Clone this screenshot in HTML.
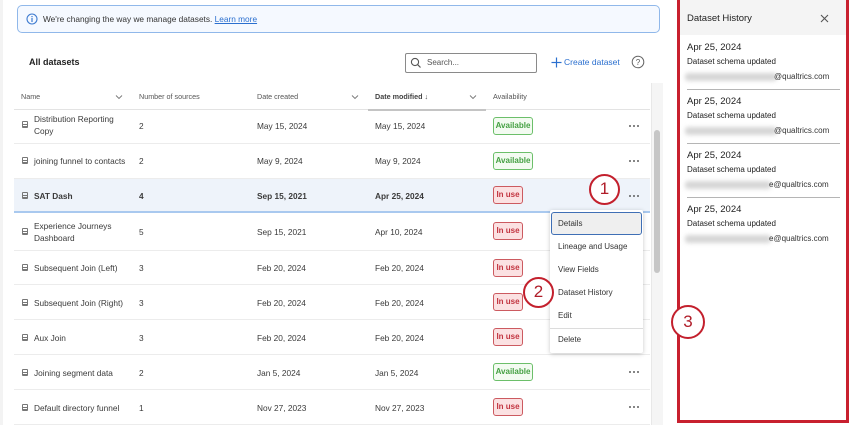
<!DOCTYPE html>
<html><head><meta charset="utf-8">
<style>
*{margin:0;padding:0;box-sizing:border-box}
body{width:850px;height:425px;overflow:hidden;background:#fff;font-family:"Liberation Sans",Arial,sans-serif;color:#333;position:relative}
.a{position:absolute;white-space:nowrap}
.t{font-size:8.3px;color:#3a3a3a;line-height:12px}
.h{font-size:7.2px;color:#555;line-height:10px}
.sep{position:absolute;left:14px;width:636px;height:1px;background:#ececec}
.badge{position:absolute;height:18px;border-radius:3px;font-size:8px;font-weight:bold;line-height:16px;text-align:center}
.av{left:493px;width:40px;border:1px solid #6cbf6a;background:#f3fbf1;color:#44a042}
.iu{left:493px;width:30px;border:1px solid #cc5a60;background:#fbe1e2;color:#c23440}
.db{position:absolute;left:22px;width:6px;height:7px;border:1.3px solid #777;border-radius:1px;background:linear-gradient(#777,#777) 0 2px/100% 1px no-repeat,linear-gradient(#777,#777) 0 4px/100% 1px no-repeat}
.dots{position:absolute;left:628px;width:12px;height:4px}
.circ{position:absolute;border:2.5px solid #c3202d;border-radius:50%;background:#fff;color:#b01d29;text-align:center;font-size:17px}
.mi{position:absolute;left:558px;font-size:8px;color:#333;line-height:10px}
.pd{position:absolute;left:687px;font-size:9.5px;color:#222;line-height:12px}
.ps{position:absolute;left:687px;font-size:8px;color:#222;line-height:10px}
.pe{position:absolute;left:685px;width:92px;height:8px;background:#d6d6d6;filter:blur(2px);border-radius:3px}
.pq{position:absolute;left:773px;font-size:8px;color:#333;line-height:10px}
.pl{position:absolute;left:687px;width:153px;height:1px;background:#b5b5b5}
</style></head><body>

<div class="a" style="left:0;top:0;width:3px;height:425px;background:#f3f3f3"></div>

<div class="a" style="left:17px;top:5px;width:643px;height:28px;border:1.3px solid #90b8ea;border-radius:5px;background:#f5f9ff"></div>
<svg class="a" style="left:26px;top:13px" width="12" height="12"><circle cx="6" cy="6" r="5" fill="none" stroke="#3d7bd0" stroke-width="1.1"/><rect x="5.4" y="5" width="1.2" height="4" fill="#3d7bd0"/><rect x="5.4" y="3" width="1.2" height="1.2" fill="#3d7bd0"/></svg>
<div class="a" style="left:43px;top:14px;font-size:8.3px;line-height:10px;color:#333">We're changing the way we manage datasets. <span style="color:#2a6fcf;text-decoration:underline">Learn more</span></div>

<div class="a" style="left:29px;top:57px;font-size:9px;font-weight:bold;color:#222;line-height:11px">All datasets</div>

<div class="a" style="left:405px;top:53px;width:132px;height:20px;border:1px solid #8a8a8a;border-radius:2px;background:#fff"></div>
<svg class="a" style="left:410px;top:57px" width="12" height="12"><circle cx="5" cy="5" r="3.6" fill="none" stroke="#555" stroke-width="1.1"/><line x1="7.6" y1="7.6" x2="10.5" y2="10.5" stroke="#555" stroke-width="1.2"/></svg>
<div class="a" style="left:427px;top:58px;font-size:8px;color:#555;line-height:10px">Search...</div>

<svg class="a" style="left:551px;top:57px" width="11" height="11"><line x1="5.5" y1="0.5" x2="5.5" y2="10.5" stroke="#2a6fcf" stroke-width="1.2"/><line x1="0.5" y1="5.5" x2="10.5" y2="5.5" stroke="#2a6fcf" stroke-width="1.2"/></svg>
<div class="a" style="left:564px;top:57px;font-size:8.5px;color:#2a6fcf;line-height:10px">Create dataset</div>
<svg class="a" style="left:631px;top:55px" width="14" height="14"><circle cx="7" cy="7" r="5.8" fill="none" stroke="#666" stroke-width="1"/><text x="7" y="10" font-size="8" text-anchor="middle" fill="#555" font-family="Liberation Sans">?</text></svg>

<div class="a h" style="left:21px;top:92px">Name</div>
<div class="a h" style="left:139px;top:92px">Number of sources</div>
<div class="a h" style="left:257px;top:92px">Date created</div>
<div class="a h" style="left:375px;top:92px;font-weight:bold;color:#444">Date modified <span style="font-weight:normal">↓</span></div>
<div class="a h" style="left:493px;top:92px">Availability</div>
<svg class="a" style="left:115px;top:94px" width="8" height="6"><polyline points="1,1.5 4,4.5 7,1.5" fill="none" stroke="#777" stroke-width="0.9"/></svg>
<svg class="a" style="left:351px;top:94px" width="8" height="6"><polyline points="1,1.5 4,4.5 7,1.5" fill="none" stroke="#777" stroke-width="0.9"/></svg>
<svg class="a" style="left:469px;top:94px" width="8" height="6"><polyline points="1,1.5 4,4.5 7,1.5" fill="none" stroke="#777" stroke-width="0.9"/></svg>
<div class="sep" style="top:109px;background:#e3e3e3"></div>
<div class="a" style="left:368px;top:109px;width:118px;height:2px;background:#c4c4c4"></div>

<div class="a" style="left:14px;top:178px;width:636px;height:34px;background:#eef3fa"></div>
<div class="a" style="left:14px;top:211px;width:636px;height:2px;background:#a9c9ef"></div>
<div class="sep" style="top:143px"></div>
<div class="sep" style="top:178px"></div>
<div class="sep" style="top:250px"></div>
<div class="sep" style="top:284px"></div>
<div class="sep" style="top:319px"></div>
<div class="sep" style="top:354px"></div>
<div class="sep" style="top:389px"></div>
<div class="sep" style="top:424px"></div>

<div class="db" style="top:121px"></div>
<div class="a t" style="left:34px;top:113px">Distribution Reporting</div>
<div class="a t" style="left:34px;top:125px">Copy</div>
<div class="a t" style="left:139px;top:120px">2</div>
<div class="a t" style="left:257px;top:120px">May 15, 2024</div>
<div class="a t" style="left:375px;top:120px">May 15, 2024</div>
<div class="badge av" style="top:117px">Available</div>

<div class="db" style="top:157px"></div>
<div class="a t" style="left:34px;top:155px">joining funnel to contacts</div>
<div class="a t" style="left:139px;top:155px">2</div>
<div class="a t" style="left:257px;top:155px">May 9, 2024</div>
<div class="a t" style="left:375px;top:155px">May 9, 2024</div>
<div class="badge av" style="top:152px">Available</div>

<div class="db" style="top:192px"></div>
<div class="a t" style="left:34px;top:190px;font-weight:bold">SAT Dash</div>
<div class="a t" style="left:139px;top:190px;font-weight:bold">4</div>
<div class="a t" style="left:257px;top:190px;font-weight:bold">Sep 15, 2021</div>
<div class="a t" style="left:375px;top:190px;font-weight:bold">Apr 25, 2024</div>
<div class="badge iu" style="top:186px">In use</div>

<div class="db" style="top:228px"></div>
<div class="a t" style="left:34px;top:220px">Experience Journeys</div>
<div class="a t" style="left:34px;top:232px">Dashboard</div>
<div class="a t" style="left:139px;top:226px">5</div>
<div class="a t" style="left:257px;top:226px">Sep 15, 2021</div>
<div class="a t" style="left:375px;top:226px">Apr 10, 2024</div>
<div class="badge iu" style="top:222px">In use</div>

<div class="db" style="top:264px"></div>
<div class="a t" style="left:34px;top:262px">Subsequent Join (Left)</div>
<div class="a t" style="left:139px;top:262px">3</div>
<div class="a t" style="left:257px;top:262px">Feb 20, 2024</div>
<div class="a t" style="left:375px;top:262px">Feb 20, 2024</div>
<div class="badge iu" style="top:259px">In use</div>

<div class="db" style="top:299px"></div>
<div class="a t" style="left:34px;top:297px">Subsequent Join (Right)</div>
<div class="a t" style="left:139px;top:297px">3</div>
<div class="a t" style="left:257px;top:297px">Feb 20, 2024</div>
<div class="a t" style="left:375px;top:297px">Feb 20, 2024</div>
<div class="badge iu" style="top:293px">In use</div>

<div class="db" style="top:334px"></div>
<div class="a t" style="left:34px;top:332px">Aux Join</div>
<div class="a t" style="left:139px;top:332px">3</div>
<div class="a t" style="left:257px;top:332px">Feb 20, 2024</div>
<div class="a t" style="left:375px;top:332px">Feb 20, 2024</div>
<div class="badge iu" style="top:328px">In use</div>

<div class="db" style="top:369px"></div>
<div class="a t" style="left:34px;top:367px">Joining segment data</div>
<div class="a t" style="left:139px;top:367px">2</div>
<div class="a t" style="left:257px;top:367px">Jan 5, 2024</div>
<div class="a t" style="left:375px;top:367px">Jan 5, 2024</div>
<div class="badge av" style="top:363px">Available</div>

<div class="db" style="top:404px"></div>
<div class="a t" style="left:34px;top:402px">Default directory funnel</div>
<div class="a t" style="left:139px;top:402px">1</div>
<div class="a t" style="left:257px;top:402px">Nov 27, 2023</div>
<div class="a t" style="left:375px;top:402px">Nov 27, 2023</div>
<div class="badge iu" style="top:398px">In use</div>

<svg class="dots" style="top:124px" viewBox="0 0 12 4"><circle cx="2" cy="2" r="0.95" fill="#555"/><circle cx="6" cy="2" r="0.95" fill="#555"/><circle cx="10" cy="2" r="0.95" fill="#555"/></svg>
<svg class="dots" style="top:159px" viewBox="0 0 12 4"><circle cx="2" cy="2" r="0.95" fill="#555"/><circle cx="6" cy="2" r="0.95" fill="#555"/><circle cx="10" cy="2" r="0.95" fill="#555"/></svg>
<svg class="dots" style="top:194px" viewBox="0 0 12 4"><circle cx="2" cy="2" r="0.95" fill="#555"/><circle cx="6" cy="2" r="0.95" fill="#555"/><circle cx="10" cy="2" r="0.95" fill="#555"/></svg>
<svg class="dots" style="top:370px" viewBox="0 0 12 4"><circle cx="2" cy="2" r="0.95" fill="#555"/><circle cx="6" cy="2" r="0.95" fill="#555"/><circle cx="10" cy="2" r="0.95" fill="#555"/></svg>
<svg class="dots" style="top:405px" viewBox="0 0 12 4"><circle cx="2" cy="2" r="0.95" fill="#555"/><circle cx="6" cy="2" r="0.95" fill="#555"/><circle cx="10" cy="2" r="0.95" fill="#555"/></svg>

<div class="a" style="left:651px;top:83px;width:12px;height:342px;background:#f5f5f5;border-left:1px solid #e8e8e8"></div>
<div class="a" style="left:654px;top:130px;width:6px;height:143px;background:#c6c6c6;border-radius:3px"></div>

<div class="a" style="left:550px;top:210px;width:93px;height:143px;background:#fff;box-shadow:0 1px 5px rgba(0,0,0,0.22);border-radius:2px"></div>
<div class="a" style="left:551px;top:212px;width:91px;height:23px;background:#efefef;border:1.5px solid #3f6fb5;border-radius:3px"></div>
<div class="mi" style="top:219px">Details</div>
<div class="mi" style="top:242px">Lineage and Usage</div>
<div class="mi" style="top:265px">View Fields</div>
<div class="mi" style="top:288px">Dataset History</div>
<div class="mi" style="top:311px">Edit</div>
<div class="a" style="left:550px;top:328px;width:93px;height:1px;background:#dcdcdc"></div>
<div class="mi" style="top:335px">Delete</div>

<div class="a" style="left:680px;top:0;width:166px;height:35px;background:#f4f4f4"></div>
<div class="a" style="left:677px;top:-3px;width:172px;height:426px;border:3px solid #c8202f"></div>
<div class="a" style="left:687px;top:13px;font-size:9.5px;color:#222;line-height:12px">Dataset History</div>
<svg class="a" style="left:820px;top:14px" width="9" height="9"><line x1="1" y1="1" x2="8" y2="8" stroke="#555" stroke-width="1.1"/><line x1="8" y1="1" x2="1" y2="8" stroke="#555" stroke-width="1.1"/></svg>

<div class="pd" style="top:42px">Apr 25, 2024</div>
<div class="ps" style="top:57px">Dataset schema updated</div>
<div class="pe" style="top:73px"></div>
<div class="pq" style="top:72px;left:774px">@qualtrics.com</div>
<div class="pl" style="top:89px"></div>

<div class="pd" style="top:96px">Apr 25, 2024</div>
<div class="ps" style="top:111px">Dataset schema updated</div>
<div class="pe" style="top:127px"></div>
<div class="pq" style="top:126px;left:774px">@qualtrics.com</div>
<div class="pl" style="top:143px"></div>

<div class="pd" style="top:150px">Apr 25, 2024</div>
<div class="ps" style="top:165px">Dataset schema updated</div>
<div class="pe" style="top:181px;width:86px"></div>
<div class="pq" style="top:180px;left:769px">e@qualtrics.com</div>
<div class="pl" style="top:197px"></div>

<div class="pd" style="top:204px">Apr 25, 2024</div>
<div class="ps" style="top:219px">Dataset schema updated</div>
<div class="pe" style="top:235px;width:86px"></div>
<div class="pq" style="top:234px;left:769px">e@qualtrics.com</div>

<div class="circ" style="left:589px;top:174px;width:31px;height:31px;line-height:26px">1</div>
<div class="circ" style="left:523px;top:277px;width:31px;height:31px;line-height:26px">2</div>
<div class="circ" style="left:671px;top:305px;width:34px;height:34px;line-height:29px">3</div>

</body></html>
